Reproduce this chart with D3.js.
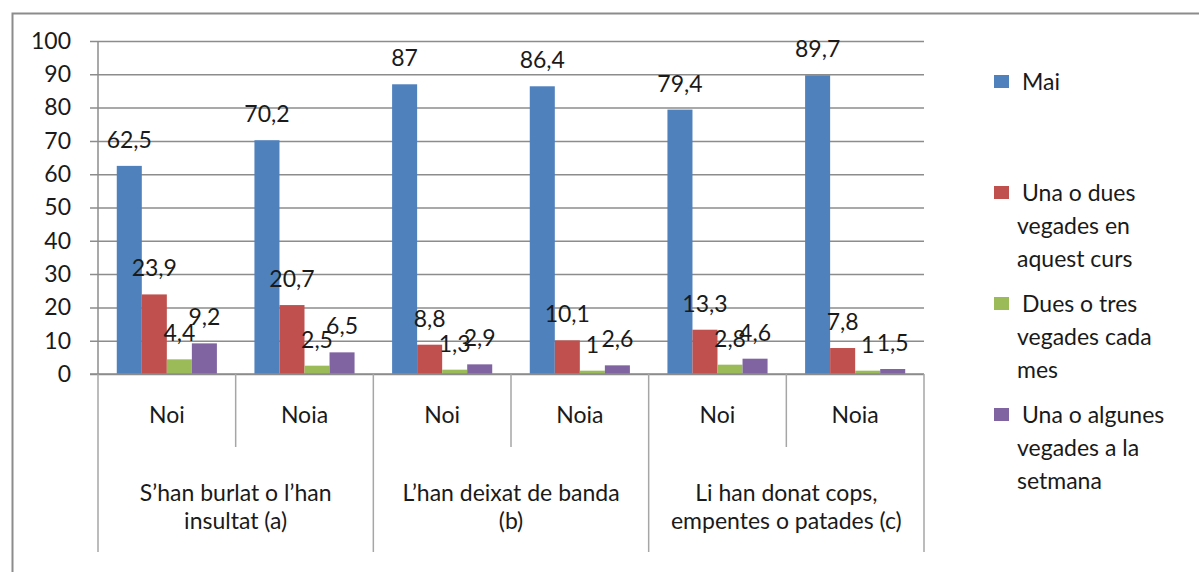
<!DOCTYPE html>
<html>
<head>
<meta charset="utf-8">
<script src="https://cdn.jsdelivr.net/npm/d3@7"></script>
<style>
  body { margin: 0; background: #fff; }
  text { font-family: Lato, "Open Sans", sans-serif; fill: #1a1a1a; }
</style>
</head>
<body>
<div id="chart"></div>
<script>
// categories (bottom axis, two levels)
let genders = ["Noi", "Noia", "Noi", "Noia", "Noi", "Noia"];
let groups = [["S’han burlat o l’han", "insultat (a)"],
              ["L’han deixat de banda", "(b)"],
              ["Li han donat cops,", "empentes o patades (c)"]];

// series
let seriesNames = ["Mai", "Una o dues vegades en aquest curs",
                   "Dues o tres vegades cada mes", "Una o algunes vegades a la setmana"];
let legendLines = [["Mai"], ["Una o dues", "vegades en", "aquest curs"],
                   ["Dues o tres", "vegades cada", "mes"],
                   ["Una o algunes", "vegades a la", "setmana"]];
let mai      = [62.5, 70.2, 87, 86.4, 79.4, 89.7];
let unaDues  = [23.9, 20.7, 8.8, 10.1, 13.3, 7.8];
let duesTres = [4.4, 2.5, 1.3, 1, 2.8, 1];
let setmana  = [9.2, 6.5, 2.9, 2.6, 4.6, 1.5];
let yTicks = [0, 10, 20, 30, 40, 50, 60, 70, 80, 90, 100];

let colors = ["#4F81BD", "#C0504D", "#9BBB59", "#8064A2"];
let seriesValues = [mai, unaDues, duesTres, setmana];

let width = 1199, height = 572;
let plot = {left: 98, right: 924, top: 41, bottom: 374};
let fs = "23px";

let svg = d3.select("#chart").append("svg")
    .attr("width", width)
    .attr("height", height);

// outer frame (top and left edges visible)
svg.append("path")
    .attr("d", `M12.5,${height} V13.5 H${width}`)
    .attr("fill", "none")
    .attr("stroke", "#8c8c8c")
    .attr("stroke-width", 2);

let y = d3.scaleLinear().domain([0, 100]).range([plot.bottom, plot.top]);
let x0 = d3.scaleBand().domain(d3.range(genders.length)).range([plot.left, plot.right]);
let x1 = d3.scaleBand().domain(d3.range(seriesNames.length))
    .range([0, x0.bandwidth()]).paddingInner(0).paddingOuter(0.75);

// gridlines + y axis
let yAxis = svg.append("g")
    .attr("transform", `translate(${plot.left},0)`)
    .call(d3.axisLeft(y).tickValues(yTicks).tickSize(8).tickPadding(19));
yAxis.select(".domain").remove();
yAxis.selectAll(".tick line")
    .attr("x2", plot.right - plot.left)
    .attr("x1", -8)
    .attr("stroke", "#8c8c8c")
    .attr("stroke-width", 1.5);
yAxis.selectAll(".tick text")
    .style("font-size", fs)
    .attr("fill", "#1a1a1a");

// y axis line
svg.append("line")
    .attr("x1", plot.left).attr("x2", plot.left)
    .attr("y1", plot.top).attr("y2", plot.bottom)
    .attr("stroke", "#8c8c8c").attr("stroke-width", 1.5);

// bars
let bars = svg.append("g");
seriesValues.forEach((vals, s) => {
    bars.selectAll(null)
        .data(vals)
        .enter()
        .append("rect")
        .attr("x", (d, i) => x0(i) + x1(s))
        .attr("y", d => y(d))
        .attr("width", x1.bandwidth())
        .attr("height", d => y(0) - y(d))
        .attr("fill", colors[s]);
});

// data labels
seriesValues.forEach((vals, s) => {
    svg.append("g").selectAll("text")
        .data(vals)
        .enter()
        .append("text")
        .attr("x", (d, i) => x0(i) + x1(s) + x1.bandwidth() / 2)
        .attr("y", d => y(d) - 18)
        .attr("text-anchor", "middle")
        .style("font-size", fs)
        .text(d => String(d).replace(".", ","));
});

// x axis baseline
svg.append("line")
    .attr("x1", plot.left - 8).attr("x2", plot.right)
    .attr("y1", plot.bottom).attr("y2", plot.bottom)
    .attr("stroke", "#8c8c8c").attr("stroke-width", 1.5);

// category separators
let sep = svg.append("g").attr("stroke", "#a6a6a6").attr("stroke-width", 1.5);
d3.range(genders.length + 1).forEach(i => {
    let xx = i < genders.length ? x0(i) : plot.right;
    sep.append("line")
        .attr("x1", xx).attr("x2", xx)
        .attr("y1", plot.bottom)
        .attr("y2", i % 2 === 0 ? 552 : 447);
});

// level-1 labels
svg.append("g").selectAll("text")
    .data(genders)
    .enter()
    .append("text")
    .attr("x", (d, i) => x0(i) + x0.bandwidth() / 2)
    .attr("y", 423)
    .attr("text-anchor", "middle")
    .style("font-size", fs)
    .text(d => d);

// level-2 labels
groups.forEach((lines, g) => {
    let cx = x0(g * 2) + x0.bandwidth();
    lines.forEach((t, k) => {
        svg.append("text")
            .attr("x", cx)
            .attr("y", 501 + k * 28)
            .attr("text-anchor", "middle")
            .style("font-size", fs)
            .text(t);
    });
});

// legend
let legend = svg.append("g");
legendLines.forEach((lines, s) => {
    let top = 82 + s * 111;
    legend.append("rect")
        .attr("x", 994).attr("y", top - 7)
        .attr("width", 15).attr("height", 13)
        .attr("fill", colors[s]);
    lines.forEach((t, k) => {
        legend.append("text")
            .attr("x", k === 0 ? 1022 : 1017)
            .attr("y", top + 8 + k * 33)
            .style("font-size", fs)
            .text(t);
    });
});
</script>
</body>
</html>
